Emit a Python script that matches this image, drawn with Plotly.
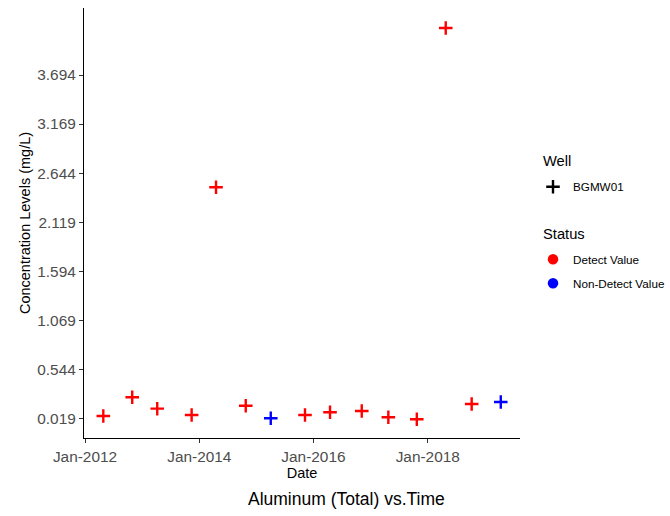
import plotly.graph_objects as go

# Sampling dates, aluminum concentrations and detection status for well BGMW01
dates = [
    "2012-04-27", "2012-10-29", "2013-04-07", "2013-11-13", "2014-04-18",
    "2014-10-25", "2015-04-03", "2015-11-08", "2016-04-16", "2016-11-05",
    "2017-04-24", "2017-10-23", "2018-04-26", "2018-10-09", "2019-04-13",
]
values = [
    0.044, 0.244, 0.122, 0.054, 2.492,
    0.154, 0.019, 0.054, 0.083, 0.097,
    0.030, 0.008, 4.198, 0.172, 0.194,
]
status = [
    "Detect Value", "Detect Value", "Detect Value", "Detect Value", "Detect Value",
    "Detect Value", "Non-Detect Value", "Detect Value", "Detect Value", "Detect Value",
    "Detect Value", "Detect Value", "Detect Value", "Detect Value", "Non-Detect Value",
]
well_name = "BGMW01"

y_ticks = [0.019, 0.544, 1.069, 1.594, 2.119, 2.644, 3.169, 3.694]
x_ticks = ["2012-01-01", "2014-01-01", "2016-01-01", "2018-01-01"]

status_colors = {"Detect Value": "#FF0000", "Non-Detect Value": "#0000FF"}

FONT = "Liberation Sans, Arial, sans-serif"
W, H = 670, 516
L, R, T, B = 84, 150, 8, 78
PW, PH = W - L - R, H - T - B


def px_x(x):
    return (x - L) / PW


def px_y(y):
    return (H - B - y) / PH


fig = go.Figure()

# Data points, one trace per status
for st, col in status_colors.items():
    xs = [d for d, s in zip(dates, status) if s == st]
    ys = [v for v, s in zip(values, status) if s == st]
    fig.add_trace(go.Scatter(
        x=xs, y=ys, mode="markers", name=st, showlegend=False,
        marker=dict(symbol="cross-thin", size=9.7, color=col,
                    line=dict(width=2.4, color=col)),
        cliponaxis=False,
    ))

# Legend keys: well shape and status colours, each in its own legend box
legend_items = [
    ("legend", well_name, "cross-thin", "#000000", 9.7, 186.7),
    ("legend2", "Detect Value", "circle", status_colors["Detect Value"], 10.5, 259.3),
    ("legend3", "Non-Detect Value", "circle", status_colors["Non-Detect Value"], 10.5, 283.3),
]
legend_layout = {}
for lg, name, sym, col, size, ypix in legend_items:
    fig.add_trace(go.Scatter(
        x=[None], y=[None], mode="markers", name=name, legend=lg,
        marker=dict(symbol=sym, size=size, color=col,
                    line=dict(width=2.4 if sym == "cross-thin" else 0, color=col)),
    ))
    legend_layout[lg] = dict(
        x=px_x(533), xanchor="left", y=px_y(ypix), yanchor="middle",
        font=dict(family=FONT, size=11.7, color="#000000"),
        bgcolor="rgba(0,0,0,0)", itemsizing="trace",
    )

annotations = [
    dict(text="Well", x=px_x(540.7), y=px_y(160.7), xref="paper", yref="paper",
         xanchor="left", yanchor="middle", showarrow=False,
         font=dict(family=FONT, size=14.7, color="#000000")),
    dict(text="Status", x=px_x(540.7), y=px_y(234.3), xref="paper", yref="paper",
         xanchor="left", yanchor="middle", showarrow=False,
         font=dict(family=FONT, size=14.7, color="#000000")),
    dict(text="Aluminum (Total) vs.Time", x=px_x(346), y=px_y(499), xref="paper",
         yref="paper", xanchor="center", yanchor="middle", showarrow=False,
         font=dict(family=FONT, size=17.5, color="#000000")),
]

fig.update_layout(
    width=W, height=H,
    margin=dict(l=L, r=R, t=T, b=B, autoexpand=False),
    paper_bgcolor="white", plot_bgcolor="white",
    font=dict(family=FONT),
    annotations=annotations,
    **legend_layout,
)

fig.update_xaxes(
    type="date", range=["2011-12-25 14:00", "2019-08-14"],
    tickvals=x_ticks, tickformat="%b-%Y",
    showgrid=False, zeroline=False,
    showline=True, linecolor="#000000", linewidth=1.3,
    ticks="outside", ticklen=4, tickwidth=1, tickcolor="#333333",
    tickfont=dict(family=FONT, size=15.4, color="#4D4D4D"),
    title=dict(text="Date", font=dict(family=FONT, size=14.5, color="#000000"), standoff=3),
)
fig.update_yaxes(
    range=[-0.192, 4.412],
    tickvals=y_ticks, ticktext=[f"{v:.3f}" for v in y_ticks],
    showgrid=False, zeroline=False,
    showline=True, linecolor="#000000", linewidth=1.3,
    ticks="outside", ticklen=4, tickwidth=1, tickcolor="#333333",
    tickfont=dict(family=FONT, size=15.4, color="#4D4D4D"),
    title=dict(text="Concentration Levels (mg/L)",
               font=dict(family=FONT, size=14.5, color="#000000"), standoff=3),
)

fig.write_html("out.html")
